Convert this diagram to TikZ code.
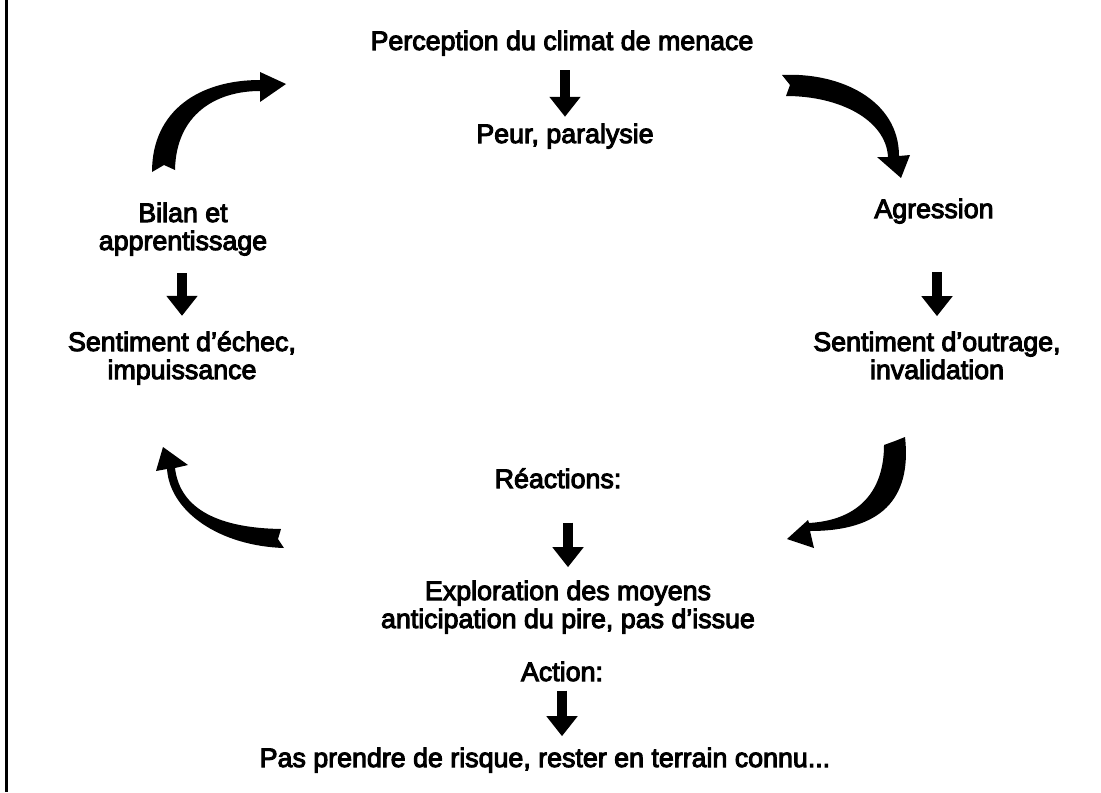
\documentclass[tikz,border=0pt]{standalone}
\usepackage{fontspec}
\newfontfamily\cyclefont{Liberation Sans}
\newcommand\heavytext{\special{pdf:literal direct 2 Tr 0.5 w}}
\usetikzlibrary{arrows.meta}
\tikzset{
  txt/.style={font=\cyclefont\fontsize{13.4pt}{14pt}\selectfont\heavytext,
    align=center,inner sep=0pt,anchor=base},
  downarr/.style={line width=5pt,-{Triangle[length=10pt,width=15pt]}},
  cyclearr/.style={fill=black}
}
\begin{document}
\begin{tikzpicture}[x=0.5pt,y=-0.5pt]
  \useasboundingbox (0,0) rectangle (1101,792);
  \draw[line width=1.5pt] (6.5,0) -- (6.5,792);

  % etats du cycle (base = derniere ligne)
  \node[txt] (percep) at (562,50) {Perception du climat de menace};
  \node[txt] (peur) at (565,143) {Peur, paralysie};
  \node[txt] (agress) at (934,218) {Agression};
  \node[txt] (outrage) at (937,379) {Sentiment d’outrage,\\invalidation};
  \node[txt] (react) at (558,488) {Réactions:};
  \node[txt] (explor) at (568,628) {Exploration des moyens\\anticipation du pire, pas d’issue};
  \node[txt] (action) at (562,681) {Action:};
  \node[txt] (pas) at (545,767) {Pas prendre de risque, rester en terrain connu...};
  \node[txt] (bilan) at (183,250) {Bilan et\\apprentissage};
  \node[txt] (echec) at (182,379) {Sentiment d’échec,\\impuissance};

  % fleches droites
  \draw[downarr,shorten <=7.2pt,shorten >=3.2pt] (peur.north |- percep.south) -- (peur.north);
  \draw[downarr,shorten <=8.7pt,shorten >=7.5pt] (echec.north |- bilan.south) -- (echec.north);
  \draw[downarr,shorten <=24.2pt,shorten >=7.5pt] (outrage.north |- agress.south) -- (outrage.north);
  \draw[downarr,shorten <=17pt,shorten >=6.5pt] (explor.north |- react.south) -- (explor.north);
  \draw[downarr,shorten <=4.5pt,shorten >=5.5pt] (action.south) -- (action.south |- pas.north);

  % fleches courbes du cycle
  \fill[cyclearr] (152,172) .. controls (152,110) and (200,80) .. (260,80)
    -- (260,72) -- (286,84) -- (260,102) -- (260,91)
    .. controls (215,91) and (176,115) .. (175,170) -- (164,165) -- cycle;
  \fill[cyclearr] (782,75) .. controls (840,72) and (899,100) .. (899,156)
    -- (910,155) -- (901,178) -- (877,157) -- (888,157)
    .. controls (886,120) and (840,96) .. (786,96) -- (790,85) -- cycle;
  \fill[cyclearr] (905,437) .. controls (912,500) and (880,531) .. (810,531)
    -- (814,548) -- (787,539) -- (808,520) -- (809,523)
    .. controls (860,520) and (884,490) .. (884,445) -- (895,441) -- cycle;
  \fill[cyclearr] (175,468) -- (188,465) -- (163,447) -- (156,471) -- (167,469)
    .. controls (170,512) and (220,546) .. (284,548) -- (278,539) -- (281,529)
    .. controls (220,528) and (180,510) .. (175,468) -- cycle;
\end{tikzpicture}
\end{document}
